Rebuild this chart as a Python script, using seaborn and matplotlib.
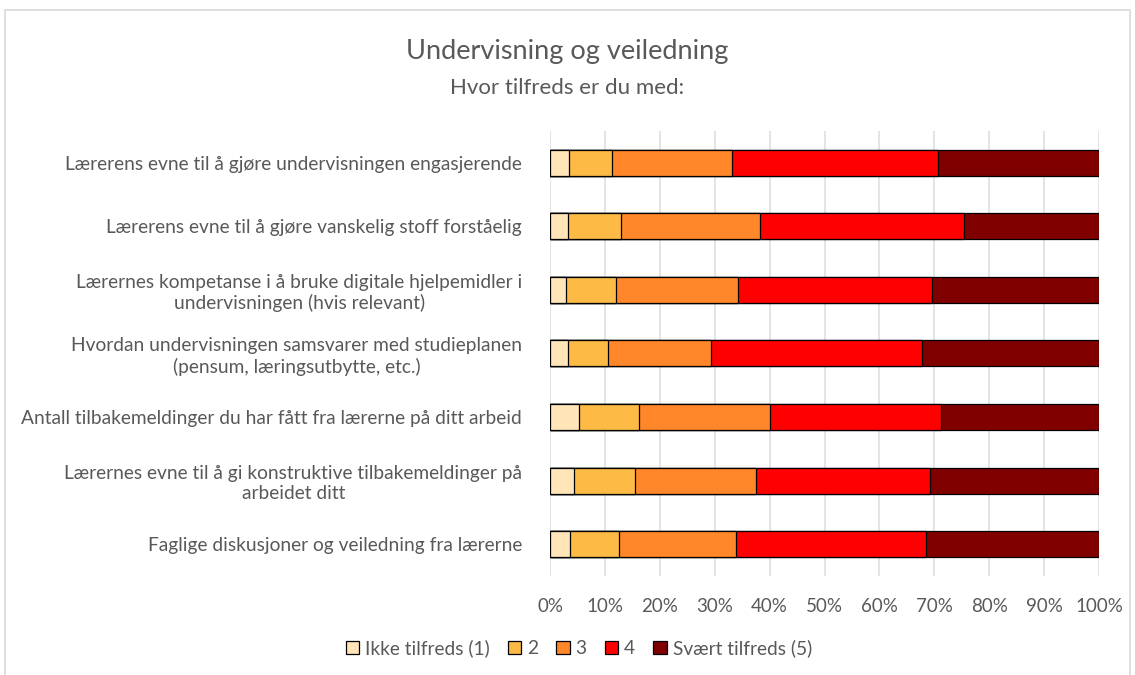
import matplotlib
matplotlib.use("Agg")
import matplotlib.pyplot as plt
import numpy as np
import pandas as pd
import seaborn as sns
from matplotlib.patches import Patch, Rectangle

sns.set_theme(style="whitegrid")
plt.rcParams["font.family"] = ["Lato", "DejaVu Sans"]

GREY = "#595959"

questions = [
    "Lærerens evne til å gjøre undervisningen engasjerende",
    "Lærerens evne til å gjøre vanskelig stoff forståelig",
    "Lærernes kompetanse i å bruke digitale hjelpemidler i\nundervisningen (hvis relevant)",
    "Hvordan undervisningen samsvarer med studieplanen\n(pensum, læringsutbytte, etc.)",
    "Antall tilbakemeldinger du har fått fra lærerne på ditt arbeid",
    "Lærernes evne til å gi konstruktive tilbakemeldinger på\narbeidet ditt",
    "Faglige diskusjoner og veiledning fra lærerne",
]
levels = ["Ikke tilfreds (1)", "2", "3", "4", "Svært tilfreds (5)"]
colors = ["#FFE5B8", "#FDBA45", "#FF8629", "#FF0000", "#800000"]

# share (%) per level, one list per level, in question order
level_1 = [3.5, 3.3, 2.9, 3.3, 5.2, 4.4, 3.6]
level_2 = [7.8, 9.7, 9.1, 7.2, 11.0, 11.0, 8.9]
level_3 = [21.9, 25.2, 22.2, 18.9, 23.8, 22.2, 21.3]
level_4 = [37.4, 37.2, 35.4, 38.4, 31.2, 31.7, 34.6]
level_5 = [29.4, 24.6, 30.4, 32.2, 28.8, 30.7, 31.6]

df = pd.DataFrame(
    np.array([level_1, level_2, level_3, level_4, level_5]).T,
    index=questions, columns=levels,
)
df = df.div(df.sum(axis=1), axis=0) * 100
cum = df.cumsum(axis=1)

fig = plt.figure(figsize=(11.35, 6.75), dpi=100)
ax = fig.add_axes([0.4846, 0.1467, 0.9683 - 0.4846, 0.806 - 0.1467])

# stacked bars: draw cumulative totals from the widest down
for lvl, col in reversed(list(zip(levels, colors))):
    sns.barplot(x=cum[lvl].values, y=cum.index, orient="h", ax=ax,
                color=col, width=0.41, edgecolor="black", linewidth=0.9,
                saturation=1)

ax.set_xlim(0, 100)
ax.set_xticks(np.arange(0, 101, 10))
ax.set_xticklabels([f"{v}%" for v in range(0, 101, 10)])
ax.set_xlabel("")
ax.set_ylabel("")
ax.grid(axis="x", color="#dcdcdc", linewidth=1.1)
ax.grid(axis="y", visible=False)
ax.set_facecolor("white")
for s in ax.spines.values():
    s.set_visible(False)
ax.tick_params(axis="x", colors=GREY, labelsize=13.5, pad=16, length=0)
ax.tick_params(axis="y", colors=GREY, labelsize=13.8, pad=20, length=0)
for lbl in ax.get_yticklabels():
    lbl.set_multialignment("center")

fig.text(0.5, 0.924, "Undervisning og veiledning", ha="center", va="center",
         fontsize=19.5, color=GREY)
fig.text(0.5, 0.870, "Hvor tilfreds er du med:", ha="center", va="center",
         fontsize=16, color=GREY)

handles = [Patch(facecolor=c, edgecolor="black", linewidth=0.9, label=l)
           for l, c in zip(levels, colors)]
leg = fig.legend(handles=handles, loc="center", bbox_to_anchor=(0.51, 0.04),
                 ncol=5, frameon=False, fontsize=13.8, handlelength=0.7,
                 handleheight=0.7, handletextpad=0.3, columnspacing=0.95)
for t in leg.get_texts():
    t.set_color(GREY)

fig.patches.append(Rectangle((0.004, -0.01), 0.992, 0.995, transform=fig.transFigure,
                             fill=False, edgecolor="#d9d9d9", linewidth=1.2))

fig.savefig("out.png", dpi=100, facecolor="white")
